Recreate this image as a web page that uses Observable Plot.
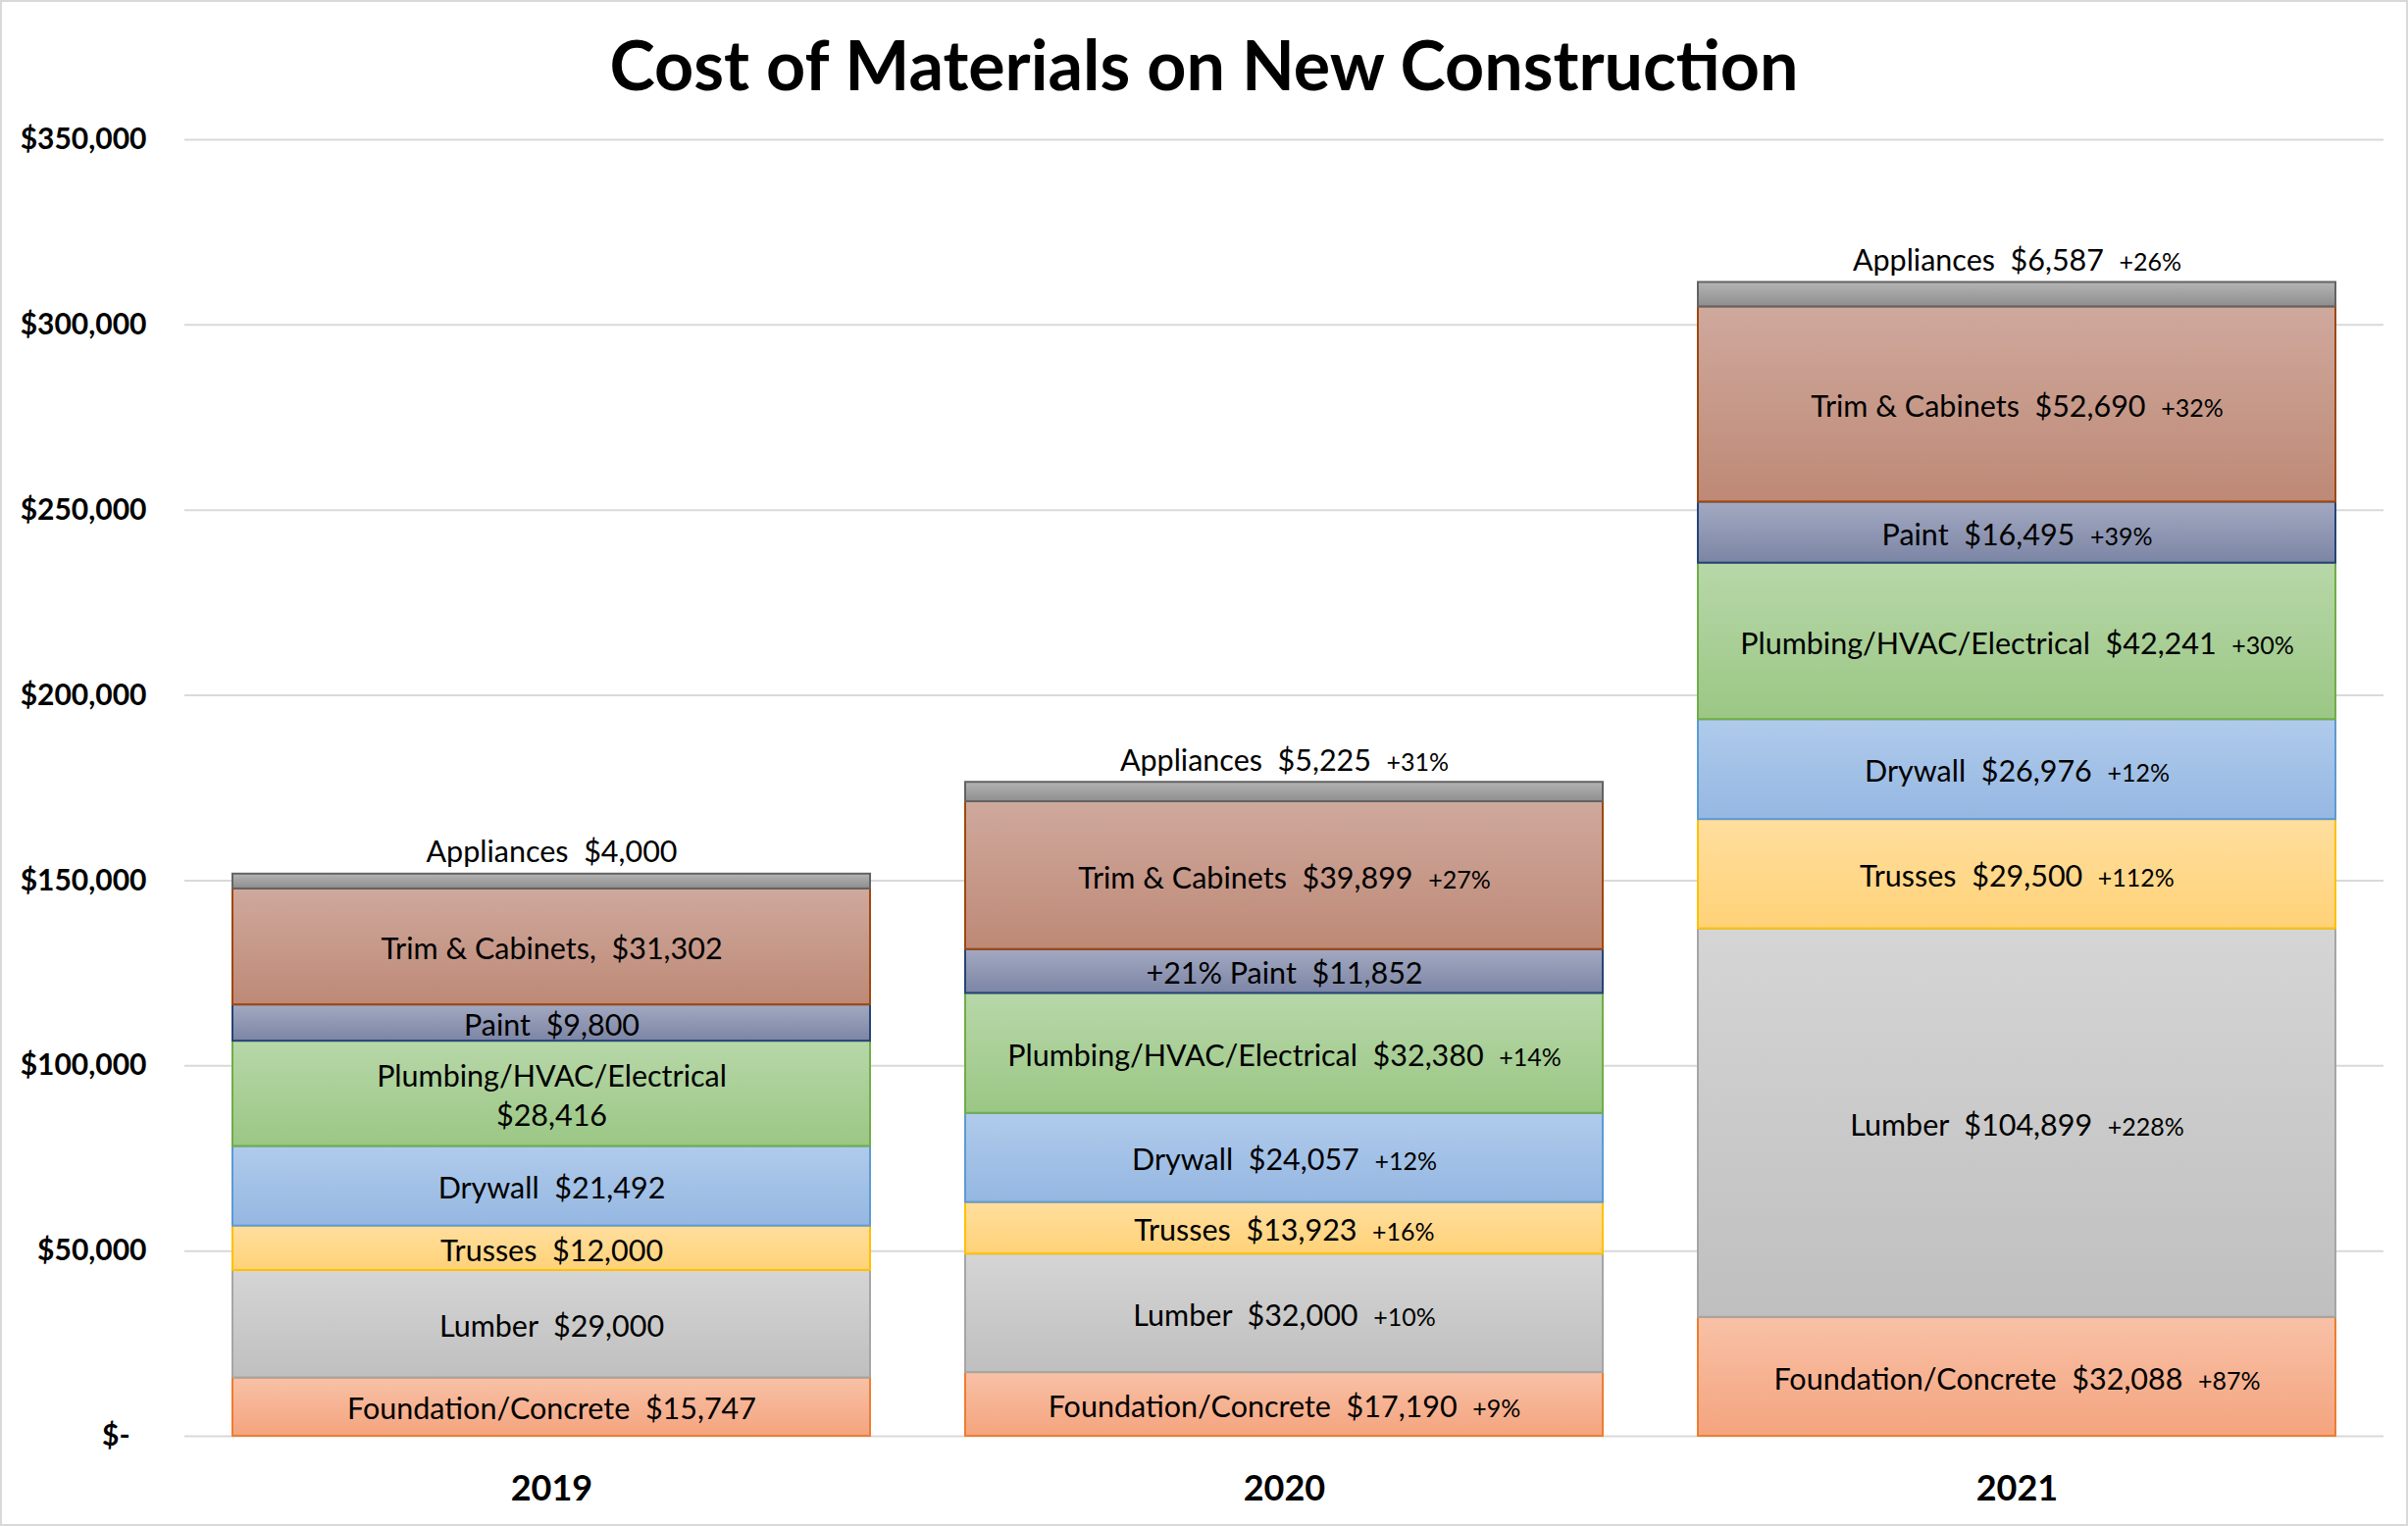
<!DOCTYPE html>
<html><head><meta charset="utf-8">
<script src="https://cdn.jsdelivr.net/npm/d3@7"></script>
<script src="https://cdn.jsdelivr.net/npm/@observablehq/plot@0.6"></script>
<style>
html,body{margin:0;padding:0;background:#fff;}
#chart{position:relative;width:2455px;height:1556px;overflow:hidden;font-family:Lato,sans-serif;background:#fff;}
#frame{position:absolute;left:0;top:0;width:2455px;height:1556px;box-sizing:border-box;border:2px solid #d9d9d9;pointer-events:none;}
#title{position:absolute;left:0;top:0;width:2455px;height:130px;line-height:130px;text-align:center;font-weight:bold;font-size:70px;color:#000;}
#plot{position:absolute;left:0;top:120px;}
#plot svg text{white-space:pre;}
</style></head>
<body><div id="chart"><div id="title">Cost of Materials on New Construction</div><div id="plot"></div><div id="frame"></div></div>
<script>
const years = ["2019", "2020", "2021"];
const categories = ["Foundation/Concrete", "Lumber", "Trusses", "Drywall", "Plumbing/HVAC/Electrical", "Paint", "Trim & Cabinets", "Appliances"];
const values2019 = [15747, 29000, 12000, 21492, 28416, 9800, 31302, 4000];
const values2020 = [17190, 32000, 13923, 24057, 32380, 11852, 39899, 5225];
const values2021 = [32088, 104899, 29500, 26976, 42241, 16495, 52690, 6587];
const labels2019 = ["Foundation/Concrete  $15,747", "Lumber  $29,000", "Trusses  $12,000", "Drywall  $21,492", "Plumbing/HVAC/Electrical\n$28,416", "Paint  $9,800", "Trim & Cabinets,  $31,302", "Appliances  $4,000"];
const labels2020 = ["Foundation/Concrete  $17,190|+9%", "Lumber  $32,000|+10%", "Trusses  $13,923|+16%", "Drywall  $24,057|+12%", "Plumbing/HVAC/Electrical  $32,380|+14%", "+21% Paint  $11,852", "Trim & Cabinets  $39,899|+27%", "Appliances  $5,225|+31%"];
const labels2021 = ["Foundation/Concrete  $32,088|+87%", "Lumber  $104,899|+228%", "Trusses  $29,500|+112%", "Drywall  $26,976|+12%", "Plumbing/HVAC/Electrical  $42,241|+30%", "Paint  $16,495|+39%", "Trim & Cabinets  $52,690|+32%", "Appliances  $6,587|+26%"];
const yTicks = [0, 50000, 100000, 150000, 200000, 250000, 300000, 350000];
const yTickLabels = ["$-\u2002\u200A", "$50,000", "$100,000", "$150,000", "$200,000", "$250,000", "$300,000", "$350,000"];

// styles
const fillTop = ["#F8C1A7", "#D5D5D5", "#FFDE9E", "#B0CBEB", "#B7D7A8", "#A3A9C1", "#CFA99D", "#B4B4B4"];
const fillBottom = ["#F4A47E", "#BFBFBF", "#FFD278", "#95B7E2", "#9BC785", "#7C85A5", "#BE8976", "#8E8E8E"];
const borderColors = ["#ED7D31", "#A5A5A5", "#FFC000", "#5B9BD5", "#70AD47", "#264478", "#9E480E", "#636363"];

const valuesByYear = [values2019, values2020, values2021];
const labelsByYear = [labels2019, labels2020, labels2021];
const data = years.flatMap((year, j) => categories.map((cat, i) => ({
  year, cat, value: valuesByYear[j][i], label: labelsByYear[j][i]
})));

const defs = () => {
  const d = d3.create("svg:defs");
  categories.forEach((c, i) => {
    const g = d.append("linearGradient").attr("id", "grad" + i)
      .attr("x1", 0).attr("y1", 0).attr("x2", 0).attr("y2", 1);
    g.append("stop").attr("offset", "0%").attr("stop-color", fillTop[i]);
    g.append("stop").attr("offset", "100%").attr("stop-color", fillBottom[i]);
  });
  return d.node();
};

const chart = Plot.plot({
  width: 2455,
  height: 1434,
  marginLeft: 188,
  marginRight: 25,
  marginTop: 22,
  marginBottom: 90,
  style: {fontFamily: "Lato, sans-serif", fontSize: "30px", color: "#000", background: "transparent"},
  x: {domain: years, paddingInner: 0.13, paddingOuter: 0.065},
  y: {domain: [0, 350000]},
  marks: [
    defs,
    Plot.ruleY(yTicks, {stroke: "#D9D9D9", strokeWidth: 2}),
    ...categories.map((cat, i) => Plot.barY(data, Plot.filter(d => d.cat === cat,
      Plot.stackY({x: "year", y: "value", z: "cat", fill: `url(#grad${i})`, stroke: borderColors[i], strokeWidth: 2})))),
    Plot.text(data, Plot.filter(d => d.cat !== "Appliances",
      Plot.stackY({x: "year", y: "value", z: "cat", text: "label", fill: "#000", fontSize: 30.5, lineHeight: 1.3}))),
    Plot.text(data, Plot.filter(d => d.cat === "Appliances",
      Plot.stackY2({x: "year", y: "value", z: "cat", text: "label", fill: "#000", fontSize: 30.5, dy: -22}))),
    Plot.axisY({ticks: yTicks, tickFormat: d => yTickLabels[yTicks.indexOf(d)], tickSize: 0, tickPadding: 39, fontWeight: "bold", fontSize: 30, label: null}),
    Plot.axisX({tickSize: 0, tickPadding: 40, fontWeight: "bold", fontSize: 36, label: null})
  ]
});

// split "main|pct" labels into two tspans, pct in smaller type
chart.querySelectorAll("text").forEach(t => {
  if (t.children.length === 0 && t.textContent.includes("|")) {
    const [main, pct] = t.textContent.split("|");
    t.textContent = "";
    const a = document.createElementNS("http://www.w3.org/2000/svg", "tspan");
    a.textContent = main + "  ";
    const b = document.createElementNS("http://www.w3.org/2000/svg", "tspan");
    b.textContent = pct;
    b.setAttribute("font-size", "0.82em");
    t.append(a, b);
  }
});

document.getElementById("plot").appendChild(chart);
</script>
</body></html>
